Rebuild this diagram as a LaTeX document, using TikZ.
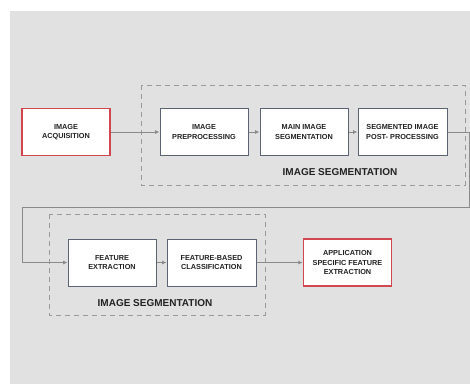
\documentclass[tikz,border=0pt]{standalone}
\usepackage{fontspec}
\setmainfont{Liberation Sans}
\usetikzlibrary{arrows.meta}
\definecolor{bg}{HTML}{E1E1E1}
\definecolor{boxline}{HTML}{5B6475}
\definecolor{redline}{HTML}{D0474F}
\definecolor{conn}{HTML}{8A8A8A}
\definecolor{dash}{HTML}{9A9A9A}
\definecolor{txt}{HTML}{222222}
\tikzset{
  stepbox/.style={draw=boxline, line width=1pt, fill=white, minimum width=88pt, minimum height=47pt,
    align=center, inner sep=1pt, text=txt, font=\bfseries\fontsize{7.3}{9.6}\selectfont},
  redbox/.style={stepbox, draw=redline, line width=1.5pt},
  groupbox/.style={draw=dash, line width=0.8pt, dash pattern=on 5pt off 4pt},
  grouplabel/.style={text=txt, font=\bfseries\fontsize{10}{12}\selectfont, inner sep=0pt},
  conn/.style={draw=conn, line width=0.8pt, -{Latex[length=4.5pt,width=4pt]}}
}
\begin{document}
\begin{tikzpicture}[x=1pt,y=-1pt]
\useasboundingbox (0,0) rectangle (470,384);
\fill[white] (0,0) rectangle (470,384);
\fill[bg] (10,11) rectangle (470,384);
% group boxes
\draw[groupbox] (141,85) rectangle (465,185);
\draw[groupbox] (49,214) rectangle (265,315);
\node[grouplabel] (g1) at (340,172) {IMAGE SEGMENTATION};
\node[grouplabel] (g2) at (155,303) {IMAGE SEGMENTATION};
% boxes
\node[redbox] (acq) at (66,132) {IMAGE\\ACQUISITION};
\node[stepbox] (pre) at (204,132) {IMAGE\\PREPROCESSING};
\node[stepbox] (main) at (304,132) {MAIN IMAGE\\SEGMENTATION};
\node[stepbox, minimum width=89pt] (seg) at (402.5,132) {SEGMENTED IMAGE\\POST- PROCESSING};
\node[stepbox] (fe) at (112,262.5) {FEATURE\\EXTRACTION};
\node[stepbox, minimum width=89pt] (fbc) at (211.5,262.5) {FEATURE-BASED\\CLASSIFICATION};
\node[redbox] (app) at (347.5,262.5) {APPLICATION\\SPECIFIC FEATURE\\EXTRACTION};
% connectors
\draw[conn] (acq) -- (pre);
\draw[conn] (pre) -- (main);
\draw[conn] (main) -- (seg);
\coordinate (c1) at (469,132);
\coordinate (c2) at (469,207);
\coordinate (c3) at (22,207);
\coordinate (c4) at (22,262.5);
\draw[conn] (seg.east) -- (c1) -- (c2) -- (c3) -- (c4) -- (fe.west);
\draw[conn] (fe) -- (fbc);
\draw[conn] (fbc) -- (app);
\end{tikzpicture}
\end{document}
